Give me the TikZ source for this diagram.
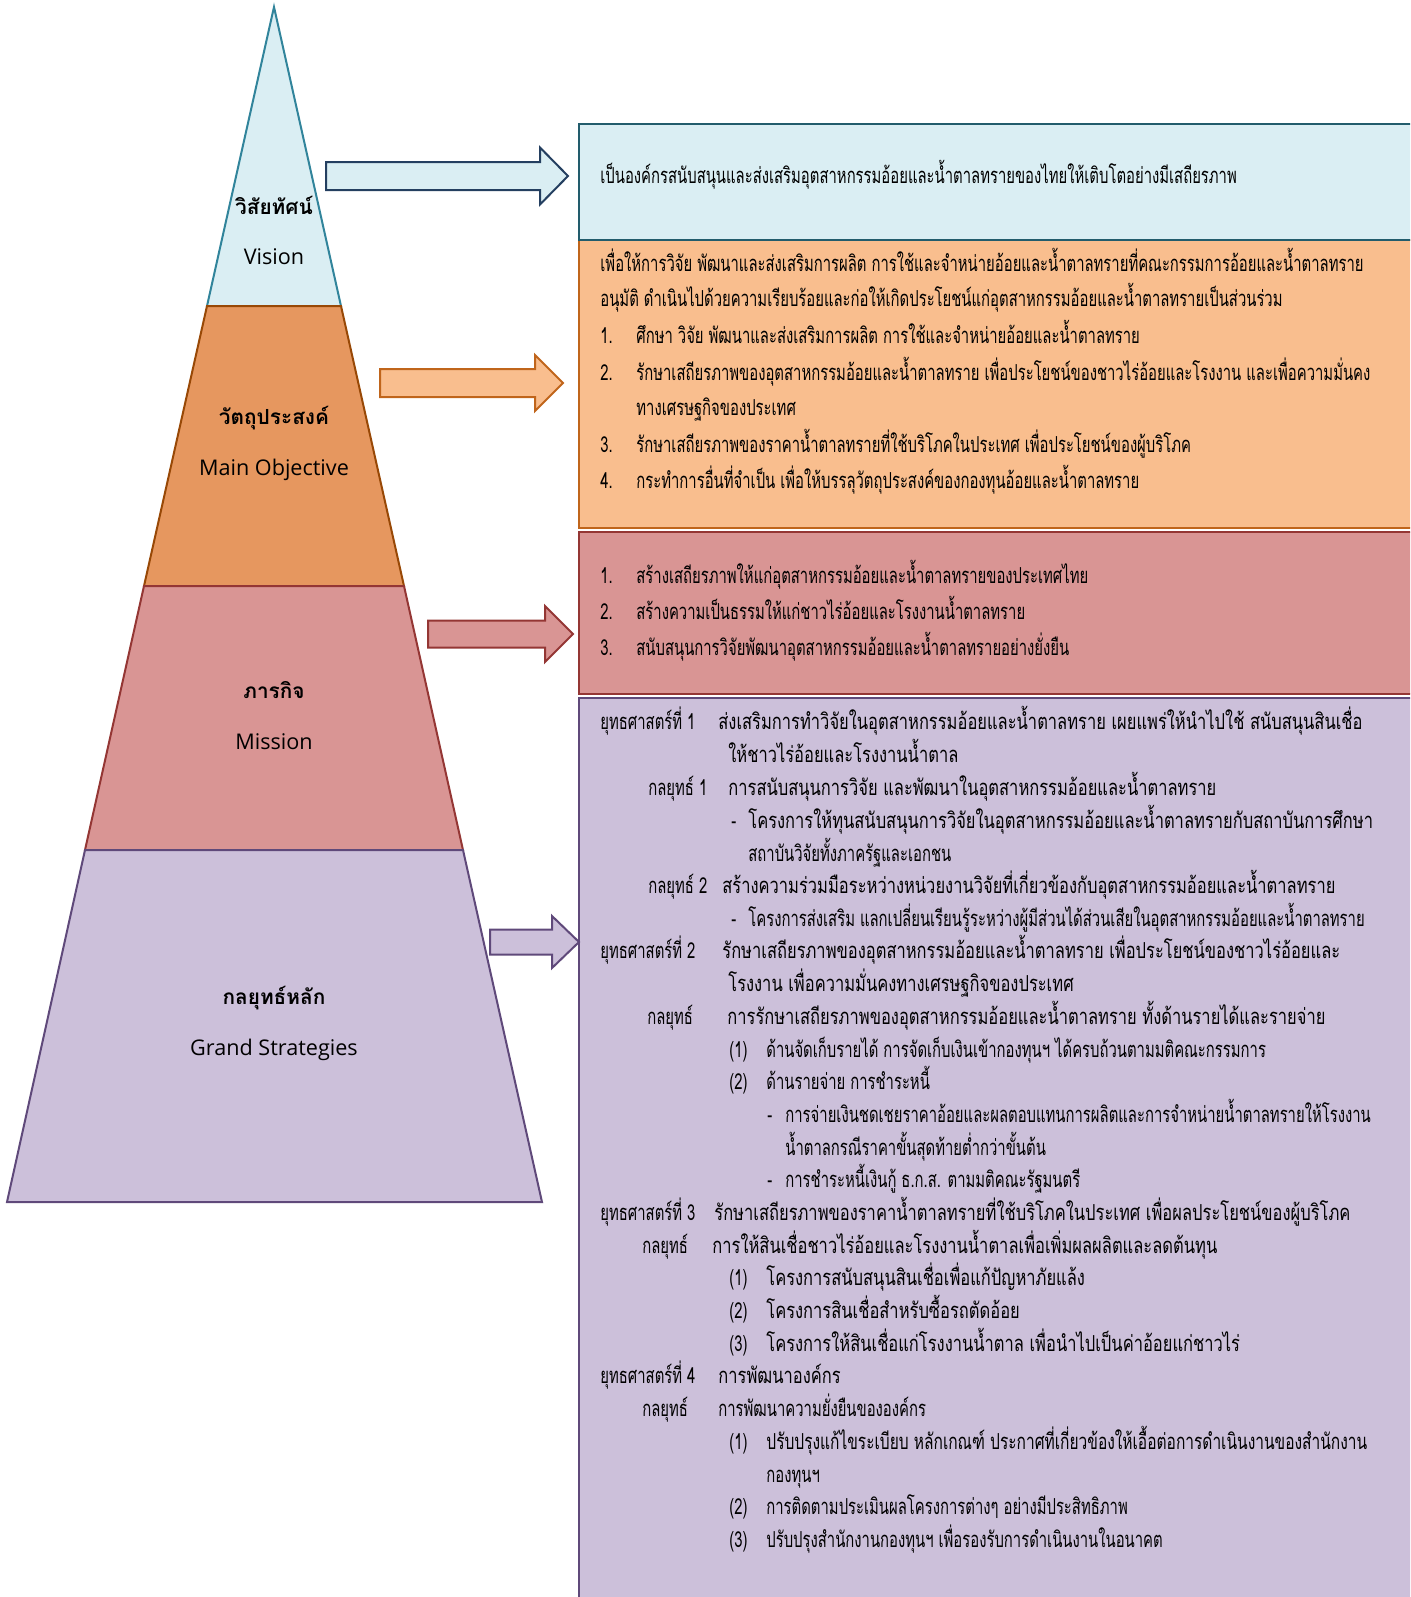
\documentclass[tikz,border=0pt]{standalone}
\usepackage{fontspec}
\newfontfamily\thaibody[Script=Thai,FakeStretch=0.675]{Loma}
\newfontfamily\thaimid[Script=Thai,FakeStretch=0.705]{Loma}
\newfontfamily\thaiwide[Script=Thai,FakeStretch=0.75]{Loma}
\newfontfamily\thaihead[Script=Thai]{Loma}
\newfontfamily\latinhead{Open Sans}

\definecolor{visfill}{HTML}{DAEEF3}
\definecolor{visline}{HTML}{31849B}
\definecolor{visarrow}{HTML}{243F60}
\definecolor{objfill}{HTML}{E6975F}
\definecolor{objline}{HTML}{984806}
\definecolor{objlight}{HTML}{F9BE8E}
\definecolor{objbox}{HTML}{C0651B}
\definecolor{misfill}{HTML}{D99594}
\definecolor{misline}{HTML}{943634}
\definecolor{gsfill}{HTML}{CCC0DA}
\definecolor{gsline}{HTML}{5F497A}

\tikzset{%
  every layer/.style={
    line width=1pt,
    line join=miter
  },
  layer vis/.style={fill=visfill, draw=visline},
  layer obj/.style={fill=objfill, draw=objline},
  layer mis/.style={fill=misfill, draw=misline},
  layer gs/.style={fill=gsfill, draw=gsline},
  arrow vis/.style={fill=visfill, draw=visarrow},
  arrow obj/.style={fill=objlight, draw=objbox},
  arrow mis/.style={fill=misfill, draw=misline},
  arrow gs/.style={fill=gsfill, draw=gsline},
  box vis/.style={fill=visfill, draw=visline!70!black},
  box obj/.style={fill=objlight, draw=objbox},
  box mis/.style={fill=misfill, draw=misline},
  box gs/.style={fill=gsfill, draw=gsline},
  layer title/.style={
    inner sep=0pt,
    font=\thaihead\bfseries\fontsize{10.4}{13}\selectfont
  },
  layer name/.style={
    inner sep=0pt,
    font=\latinhead\fontsize{10.8}{13}\selectfont
  },
  box text/.style={
    anchor=base west,
    inner sep=0pt,
    font=\thaibody\fontsize{11}{13}\selectfont
  },
  text n/.style={},
  text m/.style={font=\thaimid\fontsize{11}{13}\selectfont},
  text w/.style={font=\thaiwide\fontsize{11}{13}\selectfont},
}

\begin{document}
\begin{tikzpicture}[x=0.5pt, y=-0.5pt]
\useasboundingbox (0,0) rectangle (1410,1597);
\clip (0,0) rectangle (1410,1597);

% boxes on the right
\foreach \n/\t/\b in {gs/698/1620, mis/532/694, obj/240/528, vis/124/240}
  \draw [box \n/.try, line width=1.2pt] (579,\t) rectangle (1425,\b);

% pyramid, top to bottom
\filldraw [every layer/.try, layer vis/.try] (274,7) -- (341,306) -- (207,306) -- cycle;
\filldraw [every layer/.try, layer obj/.try] (207,306) -- (341,306) -- (404,586) -- (144,586) -- cycle;
\filldraw [every layer/.try, layer mis/.try] (144,586) -- (404,586) -- (463,850) -- (85,850) -- cycle;
\filldraw [every layer/.try, layer gs/.try] (85,850) -- (463,850) -- (542,1202) -- (7,1202) -- cycle;

\foreach \n/\th/\en/\y in {vis/วิสัยทัศน์/Vision/205, obj/วัตถุประสงค์/Main Objective/418,
    mis/ภารกิจ/Mission/690, gs/กลยุทธ์หลัก/Grand Strategies/998}
{
  \node [layer title] (\n-title) at (274,\y) {\th};
  \node [layer name] (\n-name) at (274,\y+52) {\en};
}

% block arrows
\foreach \n/\xa/\xb/\xt/\yc/\bh/\hh in {vis/326/540/568/176/14/28.5, obj/380/535/563/383/14/28,
    mis/428/545/573/634/13.5/28, gs/490/552/579/942/12.5/26}
  \filldraw [arrow \n/.try, line width=1pt] (\xa,\yc-\bh) -- (\xb,\yc-\bh) -- (\xb,\yc-\hh)
    -- (\xt,\yc) -- (\xb,\yc+\hh) -- (\xb,\yc+\bh) -- (\xa,\yc+\bh) -- cycle;

% vision text
\node [box text] (vis-text) at (600,183) {เป็นองค์กรสนับสนุนและส่งเสริมอุตสาหกรรมอ้อยและน้ำตาลทรายของไทยให้เติบโตอย่างมีเสถียรภาพ};

% objective text
\foreach \x/\y/\t [count=\i] in {
  600/265/{เพื่อให้การวิจัย พัฒนาและส่งเสริมการผลิต การใช้และจำหน่ายอ้อยและน้ำตาลทรายที่คณะกรรมการอ้อยและน้ำตาลทราย},
  600/300/{อนุมัติ ดำเนินไปด้วยความเรียบร้อยและก่อให้เกิดประโยชน์แก่อุตสาหกรรมอ้อยและน้ำตาลทรายเป็นส่วนร่วม},
  600/337/{1.}, 636/337/{ศึกษา วิจัย พัฒนาและส่งเสริมการผลิต การใช้และจำหน่ายอ้อยและน้ำตาลทราย},
  600/374/{2.}, 636/374/{รักษาเสถียรภาพของอุตสาหกรรมอ้อยและน้ำตาลทราย เพื่อประโยชน์ของชาวไร่อ้อยและโรงงาน และเพื่อความมั่นคง},
  636/409/{ทางเศรษฐกิจของประเทศ},
  600/446/{3.}, 636/446/{รักษาเสถียรภาพของราคาน้ำตาลทรายที่ใช้บริโภคในประเทศ เพื่อประโยชน์ของผู้บริโภค},
  600/482/{4.}, 636/482/{กระทำการอื่นที่จำเป็น เพื่อให้บรรลุวัตถุประสงค์ของกองทุนอ้อยและน้ำตาลทราย}}
  \node [box text] (obj-\i) at (\x,\y+6) {\t};

% mission text
\foreach \x/\y/\t [count=\i] in {
  600/577/{1.}, 636/577/{สร้างเสถียรภาพให้แก่อุตสาหกรรมอ้อยและน้ำตาลทรายของประเทศไทย},
  600/613/{2.}, 636/613/{สร้างความเป็นธรรมให้แก่ชาวไร่อ้อยและโรงงานน้ำตาลทราย},
  600/649/{3.}, 636/649/{สนับสนุนการวิจัยพัฒนาอุตสาหกรรมอ้อยและน้ำตาลทรายอย่างยั่งยืน}}
  \node [box text] (mis-\i) at (\x,\y+6) {\t};

% grand strategies text
\foreach \x/\y/\s/\t [count=\i] in {
  600/723/n/{ยุทธศาสตร์ที่ 1}, 718/723/w/{ส่งเสริมการทำวิจัยในอุตสาหกรรมอ้อยและน้ำตาลทราย เผยแพร่ให้นำไปใช้ สนับสนุนสินเชื่อ},
  728/756/w/{ให้ชาวไร่อ้อยและโรงงานน้ำตาล},
  648/789/n/{กลยุทธ์ 1}, 728/789/w/{การสนับสนุนการวิจัย และพัฒนาในอุตสาหกรรมอ้อยและน้ำตาลทราย},
  731/822/n/{-}, 748/822/w/{โครงการให้ทุนสนับสนุนการวิจัยในอุตสาหกรรมอ้อยและน้ำตาลทรายกับสถาบันการศึกษา},
  748/855/n/{สถาบันวิจัยทั้งภาครัฐและเอกชน},
  648/887/n/{กลยุทธ์ 2}, 722/887/w/{สร้างความร่วมมือระหว่างหน่วยงานวิจัยที่เกี่ยวข้องกับอุตสาหกรรมอ้อยและน้ำตาลทราย},
  731/920/n/{-}, 748/920/n/{โครงการส่งเสริม แลกเปลี่ยนเรียนรู้ระหว่างผู้มีส่วนได้ส่วนเสียในอุตสาหกรรมอ้อยและน้ำตาลทราย},
  600/952/n/{ยุทธศาสตร์ที่ 2}, 722/952/w/{รักษาเสถียรภาพของอุตสาหกรรมอ้อยและน้ำตาลทราย เพื่อประโยชน์ของชาวไร่อ้อยและ},
  728/985/w/{โรงงาน เพื่อความมั่นคงทางเศรษฐกิจของประเทศ},
  647/1018/n/{กลยุทธ์}, 727/1018/w/{การรักษาเสถียรภาพของอุตสาหกรรมอ้อยและน้ำตาลทราย ทั้งด้านรายได้และรายจ่าย},
  729/1051/n/{(1)}, 766/1051/n/{ด้านจัดเก็บรายได้ การจัดเก็บเงินเข้ากองทุนฯ ได้ครบถ้วนตามมติคณะกรรมการ},
  729/1083/n/{(2)}, 766/1083/n/{ด้านรายจ่าย การชำระหนี้},
  767/1116/n/{-}, 785/1116/n/{การจ่ายเงินชดเชยราคาอ้อยและผลตอบแทนการผลิตและการจำหน่ายน้ำตาลทรายให้โรงงาน},
  785/1149/n/{น้ำตาลกรณีราคาขั้นสุดท้ายต่ำกว่าขั้นต้น},
  767/1181/n/{-}, 785/1181/n/{การชำระหนี้เงินกู้ ธ.ก.ส. ตามมติคณะรัฐมนตรี},
  600/1214/n/{ยุทธศาสตร์ที่ 3}, 714/1214/w/{รักษาเสถียรภาพของราคาน้ำตาลทรายที่ใช้บริโภคในประเทศ เพื่อผลประโยชน์ของผู้บริโภค},
  642/1247/n/{กลยุทธ์}, 712/1247/w/{การให้สินเชื่อชาวไร่อ้อยและโรงงานน้ำตาลเพื่อเพิ่มผลผลิตและลดต้นทุน},
  729/1279/n/{(1)}, 766/1279/w/{โครงการสนับสนุนสินเชื่อเพื่อแก้ปัญหาภัยแล้ง},
  729/1312/n/{(2)}, 766/1312/w/{โครงการสินเชื่อสำหรับซื้อรถตัดอ้อย},
  729/1345/n/{(3)}, 766/1345/w/{โครงการให้สินเชื่อแก่โรงงานน้ำตาล เพื่อนำไปเป็นค่าอ้อยแก่ชาวไร่},
  600/1377/n/{ยุทธศาสตร์ที่ 4}, 718/1377/w/{การพัฒนาองค์กร},
  642/1410/n/{กลยุทธ์}, 718/1410/n/{การพัฒนาความยั่งยืนขององค์กร},
  729/1443/n/{(1)}, 766/1443/m/{ปรับปรุงแก้ไขระเบียบ หลักเกณฑ์ ประกาศที่เกี่ยวข้องให้เอื้อต่อการดำเนินงานของสำนักงาน},
  766/1476/n/{กองทุนฯ},
  729/1508/n/{(2)}, 766/1508/n/{การติดตามประเมินผลโครงการต่างๆ อย่างมีประสิทธิภาพ},
  729/1541/n/{(3)}, 766/1541/n/{ปรับปรุงสำนักงานกองทุนฯ เพื่อรองรับการดำเนินงานในอนาคต}}
  \node [box text, text \s] (gs-\i) at (\x,\y+6) {\t};

\end{tikzpicture}
\end{document}
